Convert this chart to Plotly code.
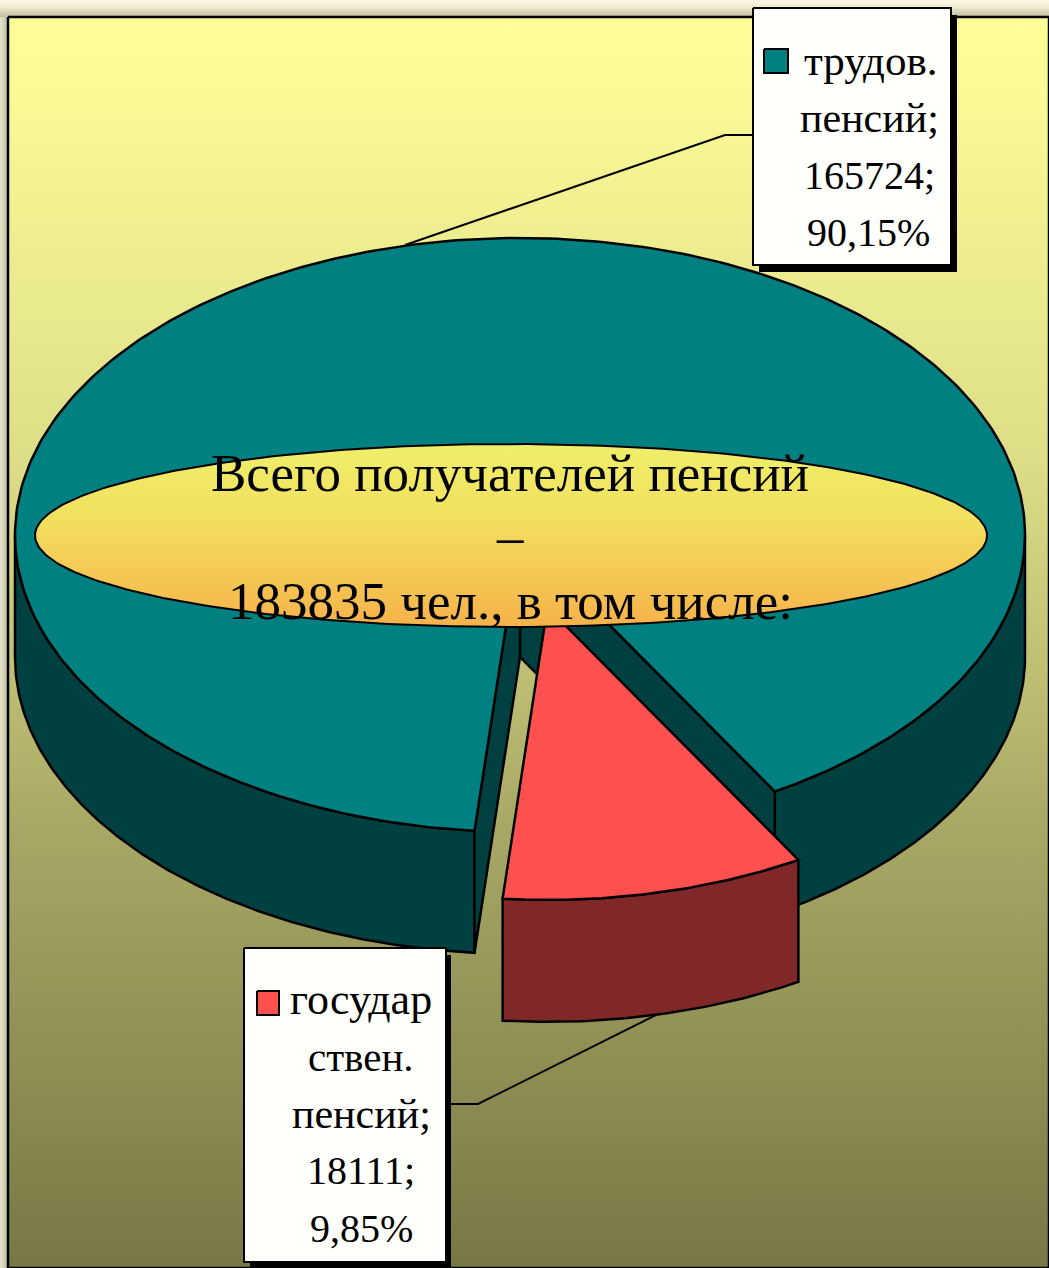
import numpy as np
import plotly.graph_objects as go

# ---- data ----
categories = ["трудов. пенсий", "государственных пенсий"]
recipients = [165724, 18111]
title_lines = ["Всего получателей пенсий", "–", "183835 чел., в том числе:"]
label_teal = ["трудов.", "пенсий;"]
label_red = ["государ", "ствен.", "пенсий;"]

W, H = 1049, 1268
total = sum(recipients)
gap = 360 * recipients[1] / total
start = 59.7           # screen angle where the red slice begins
CX, CY, RX, RY = 520, 535, 505, 297
DEPTH = 122
EXPLODE = 126
RED_SCALE = 0.985
INK = "#000000"
TEAL, TEAL_D = "#008080", "#004040"
RED, RED_D = "#FF5050", "#802828"
OUTLINE = 2.5

fig = go.Figure()


def poly(xs, ys, fill=None, grad=None, line=INK, lw=OUTLINE):
    xs, ys = list(xs), list(ys)
    xs.append(xs[0])
    ys.append(ys[0])
    kw = dict(x=xs, y=ys, mode="lines", fill="toself", hoverinfo="skip",
              showlegend=False, line=dict(color=line, width=lw))
    if grad is not None:
        kw["fillgradient"] = grad
        kw["fillcolor"] = "rgba(0,0,0,0)"
    else:
        kw["fillcolor"] = fill
    if lw == 0:
        kw["line"] = dict(color="rgba(0,0,0,0)", width=0)
    fig.add_trace(go.Scatter(**kw))


def arc(cx, cy, a0, a1, n=180, dy=0, scale=1.0):
    t = np.radians(np.linspace(a0, a1, n))
    return cx + scale * RX * np.cos(t), cy + dy + scale * RY * np.sin(t)


def vgrad(stops):
    # stops are listed from the top of the page downwards; the y axis runs downwards
    return dict(type="vertical", colorscale=[[1 - p, c] for p, c in reversed(stops)])


def hgrad(stops):
    return dict(type="horizontal", colorscale=stops)


# ---- slide background ----
poly([0, W, W, 0], [0, 0, 20, 20],
     grad=vgrad([[0, "#FDF8E6"], [0.35, "#EFEBD0"], [0.85, "#BDBD9F"], [1, "#B0B090"]]), lw=0)
poly([0, 8, 8, 0], [17, 17, H, H],
     grad=hgrad([[0, "#E6E3C9"], [1, "#BEBEA2"]]), lw=0)
poly([8, W, W, 8], [17, 17, H, H],
     grad=vgrad([[0, "#FFFF99"], [0.35, "#DEDE88"], [0.665, "#A5A564"], [1, "#787846"]]),
     line=INK, lw=2.5)

# ---- leader lines (behind the pie) ----
fig.add_trace(go.Scatter(x=[405, 725, 753], y=[245, 135, 135], mode="lines", hoverinfo="skip",
                         showlegend=False, line=dict(color=INK, width=2)))
fig.add_trace(go.Scatter(x=[662, 478, 446], y=[1012, 1104, 1104], mode="lines", hoverinfo="skip",
                         showlegend=False, line=dict(color=INK, width=2)))

# ---- teal slice ----
a_end = start + gap            # left edge of the gap
a_full = start + 360           # the long way round
# outer wall: visible lower half only
for a0, a1 in [(a_end, 180), (0, start)]:
    x, y = arc(CX, CY, a0, a1)
    xb, yb = arc(CX, CY, a0, a1, dy=DEPTH)
    poly(np.r_[x, xb[::-1]], np.r_[y, yb[::-1]], fill=TEAL_D)
# the two cut walls
for a in (start, a_end):
    x, y = arc(CX, CY, a, a, n=1)
    poly([CX, x[0], x[0], CX], [CY, y[0], y[0] + DEPTH, CY + DEPTH], fill=TEAL_D)
x, y = arc(CX, CY, a_end, a_full, n=360)
poly(np.r_[CX, x], np.r_[CY, y], fill=TEAL)

# ---- red slice, pulled out along its middle ----
mid = np.radians(start + gap / 2)
RCX = CX + EXPLODE * np.cos(mid)
RCY = CY + EXPLODE * RY / RX * np.sin(mid)
x, y = arc(RCX, RCY, start, a_end, n=60, scale=RED_SCALE)
xb, yb = arc(RCX, RCY, start, a_end, n=60, dy=DEPTH, scale=RED_SCALE)
poly(np.r_[x, xb[::-1]], np.r_[y, yb[::-1]], fill=RED_D)
poly(np.r_[RCX, x], np.r_[RCY, y], fill=RED)

# ---- central oval ----
t = np.radians(np.linspace(0, 360, 361))
poly(511 + 476 * np.cos(t), 535.5 + 91.5 * np.sin(t),
     grad=vgrad([[0, "#EFEF6A"], [0.4, "#F2E060"], [1, "#F6B24A"]]), lw=2)

# ---- label boxes ----
poly([759, 957, 957, 759], [15, 15, 272, 272], fill=INK, lw=0)
poly([753, 951, 951, 753], [8, 8, 265, 265], fill="#FFFFFB", lw=2)
poly([764, 788, 788, 764], [49, 49, 73, 73], fill=TEAL, lw=2)
poly([250, 451, 451, 250], [955, 955, H, H], fill=INK, lw=0)
poly([244, 446, 446, 244], [948, 948, 1262, 1262], fill="#FFFFFB", lw=2)
poly([257, 279, 279, 257], [991, 991, 1015, 1015], fill=RED, lw=2)


def text(s, x, y, size, font="Liberation Serif"):
    fig.add_annotation(x=x, y=y, text=s, showarrow=False, xanchor="center", yanchor="middle",
                       font=dict(family=font, size=size, color="#000000"))


for s, y in zip(title_lines, [473, 536, 601]):
    text(s, 510, y, 53)

pct = lambda v: f"{100 * v / total:.2f}".replace(".", ",") + "%"
teal_lines = label_teal + [f"{recipients[0]};", pct(recipients[0])]
red_lines = label_red + [f"{recipients[1]};", pct(recipients[1])]
for s, x, y, size in zip(teal_lines, [870, 869, 869, 868], [60, 118, 175, 232], [43, 42, 40, 40]):
    text(s, x, y, size)
for s, x, y, size in zip(red_lines, [361, 361, 361, 361, 361], [999, 1057, 1114, 1170, 1228],
                         [44, 41, 42, 40, 40]):
    text(s, x, y, size)

fig.update_xaxes(range=[0, W], visible=False, fixedrange=True)
fig.update_yaxes(range=[H, 0], visible=False, fixedrange=True)
fig.update_layout(width=W, height=H, margin=dict(l=0, r=0, t=0, b=0),
                  paper_bgcolor="#FFFFFF", plot_bgcolor="#FFFFFF", showlegend=False)
fig.write_html("out.html", config={"displayModeBar": False},
               post_script="document.body.style.margin='0';document.documentElement.style.overflow='hidden';")
